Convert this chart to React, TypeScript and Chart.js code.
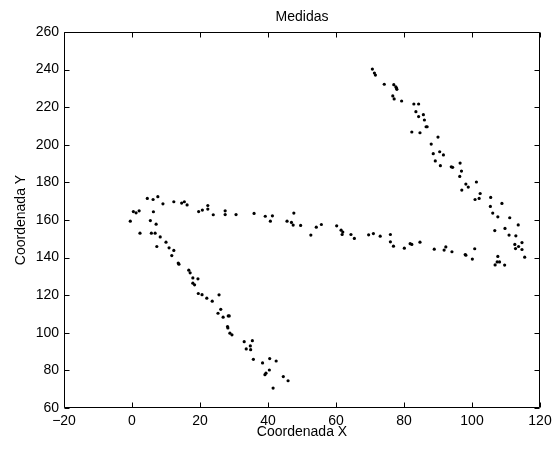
import { useEffect, useRef } from "react";
import { Chart, registerables } from "chart.js";

Chart.register(...registerables);

// Descending branch (lower left) and left junction
const descX = [
  -0.5, 0.4, 1.2, 2.1, 2.35, 4.5, 6.2, 7.6, 6.3, 5.4, 7.1, 5.7, 6.8, 8.3, 9.1, 12.3, 14.6, 15.4, 16.2,
  7.3, 10, 10.9, 12.3, 11.7, 13.8, 13.6, 16.7, 17.1, 17.9, 19.4, 18.4, 17.9, 19.5, 20.6, 22, 23.6, 25.6,
  26.1, 25.3, 26.8, 28.3, 28.6, 28.1, 28.2, 28.8, 29.4, 33, 35.4, 33.6, 34.8, 34.9, 35.7, 38.4, 40.5,
  42.4, 40.4, 39.4, 39.1, 41.5, 44.5, 45.9,
];
const descY = [
  159.4, 164.5, 163.8, 164.9, 153, 171.5, 170.9, 172.4, 164.4, 159.7, 157.8, 153, 153, 151, 168.6, 169.7,
  169, 169.7, 168, 145.9, 148.2, 145.2, 143.8, 141.1, 136.5, 137.1, 133.3, 131.9, 129.2, 128.7, 125.5,
  126.4, 120.9, 120.3, 118.4, 116.8, 120.2, 112.5, 110.4, 108.3, 109, 109, 103.3, 102.6, 99.8, 98.9,
  95.3, 95.8, 91.4, 93, 91, 85.9, 84, 86.3, 85, 80.2, 78.5, 77.7, 70.6, 76.7, 74.5,
];

// Middle, nearly horizontal branch
const midX = [
  19.6, 20.7, 22.3, 22.3, 23.9, 27.4, 27.4, 30.6, 35.9, 39.2, 40.7, 41.3, 45.6, 46.9, 47.6, 47.4, 49.6,
  52.6, 54.2, 55.7, 60.2, 61.5, 62, 61.8, 64.4, 65.4, 69.6, 71, 73, 76, 76, 76.9, 80.1, 81.8, 82.3, 84.7,
  88.9, 91.8, 92.3, 94.1, 98, 98.2, 100.1, 100.8,
];
const midY = [
  164.5, 165.3, 167.7, 165.8, 162.8, 164.9, 162.9, 162.9, 163.5, 162, 159.4, 162.2, 159.4, 158.7, 163.7,
  157.3, 157.1, 152, 156.2, 157.6, 156.9, 154.6, 153.6, 152.3, 152.3, 150.2, 152.1, 152.8, 151.4, 152.3,
  148.4, 146.1, 145, 147.4, 147, 148.2, 144.5, 144, 145.7, 143.1, 141.6, 141.3, 139.2, 144.7,
];

// Upper right branch
const upX = [
  70.7, 71.3, 71.6, 74.2, 77, 77.6, 77.9, 77.8, 76.7, 77.1, 79.3, 82.9, 84.3, 83.5, 84.3, 85.7, 86, 86.5,
  86.8, 82.3, 84.7, 90, 88, 88.6, 90.5, 91.6, 89.2, 90.7, 93.9, 94.3, 96.5, 96.9, 96.4, 97, 98.2, 98.9,
  101.3, 102.4, 102.1, 100.9, 105.5, 108.8, 105.4, 106.1, 107.6, 111.1, 106.7, 109.7, 113.6, 110.9, 112.9,
  114.7, 112.6, 113.7, 112.8, 114.7, 115.5, 107.6, 107.4, 108.1, 106.8, 109.6,
];
const upY = [
  240.3, 238.2, 237.1, 232.2, 232, 230.8, 229.5, 230.2, 226, 224.4, 223.3, 221.7, 221.7, 217.6, 215, 216,
  213.2, 209.6, 209.6, 206.8, 206.4, 204.1, 200.4, 195.3, 196.3, 194.6, 191.4, 188.9, 188.3, 188, 190.3,
  186, 183.2, 175.9, 179.1, 177.5, 180.2, 174.1, 171.5, 170.9, 172, 168.8, 167.2, 163.7, 161.7, 161.2,
  154.4, 155.5, 157.4, 152, 151.6, 148, 147, 145.9, 144.8, 144.3, 140.2, 140.6, 137.7, 137.7, 136.1, 136,
];

const xTickValues = [-20, 0, 20, 40, 60, 80, 100, 120];
const yTickValues = [60, 80, 100, 120, 140, 160, 180, 200, 220, 240, 260];

const FONT = "'Liberation Sans', Arial, Helvetica, sans-serif";

const boxPlugin = {
  id: "matlabBox",
  afterDraw(chart: any) {
    const { ctx, chartArea: a, scales } = chart;
    const L = Math.round(a.left) + 0.5;
    const R = Math.round(a.right) - 0.5;
    const T = Math.round(a.top) + 0.5;
    const B = Math.round(a.bottom) - 0.5;
    const len = 5;
    ctx.save();
    ctx.strokeStyle = "#000";
    ctx.lineWidth = 1;
    ctx.beginPath();
    ctx.rect(L, T, R - L, B - T);
    scales.x.ticks.forEach((t: any) => {
      const px = Math.round(scales.x.getPixelForValue(t.value)) + 0.5;
      ctx.moveTo(px, B);
      ctx.lineTo(px, B - len);
      ctx.moveTo(px, T);
      ctx.lineTo(px, T + len);
    });
    scales.y.ticks.forEach((t: any) => {
      const py = Math.round(scales.y.getPixelForValue(t.value)) + 0.5;
      ctx.moveTo(L, py);
      ctx.lineTo(L + len, py);
      ctx.moveTo(R, py);
      ctx.lineTo(R - len, py);
    });
    ctx.stroke();
    ctx.restore();
  },
};

export default function App() {
  const canvasRef = useRef<HTMLCanvasElement | null>(null);

  useEffect(() => {
    document.body.style.margin = "0";
    const canvas = canvasRef.current;
    if (!canvas) return;
    const xs = [...descX, ...midX, ...upX];
    const ys = [...descY, ...midY, ...upY];
    const data = xs.map((x, i) => ({ x, y: ys[i] }));

    const fmt = (v: number) => (v < 0 ? "\u2212" + Math.abs(v) : String(v));

    const chart = new Chart(canvas, {
      type: "scatter",
      data: {
        datasets: [
          {
            data,
            pointRadius: 1.6,
            pointBackgroundColor: "#000",
            pointBorderWidth: 0,
            borderColor: "#000",
            showLine: false,
          },
        ],
      },
      options: {
        animation: false,
        responsive: false,
        devicePixelRatio: 1,
        layout: { padding: { left: 0, right: 20, top: 0, bottom: 0 } },
        plugins: {
          legend: { display: false },
          tooltip: { enabled: false },
          title: {
            display: true,
            text: "Medidas",
            fullSize: false,
            color: "#000",
            font: { family: FONT, size: 14, weight: "normal" },
            padding: { top: 8.6, bottom: 6.6 },
          },
        },
        scales: {
          x: {
            type: "linear",
            min: -20,
            max: 120,
            afterBuildTicks: (s: any) => {
              s.ticks = xTickValues.map((v) => ({ value: v }));
            },
            afterFit: (s: any) => {
              s.height = 41;
            },
            grid: { display: false, drawTicks: false },
            border: { display: false },
            ticks: {
              color: "#000",
              padding: 5,
              maxRotation: 0,
              font: { family: FONT, size: 14 },
              callback: (v: any) => fmt(Number(v)),
            },
            title: {
              display: true,
              text: "Coordenada X",
              color: "#000",
              font: { family: FONT, size: 14 },
              padding: { top: 0, bottom: 8.6 },
            },
          },
          y: {
            type: "linear",
            min: 60,
            max: 260,
            afterBuildTicks: (s: any) => {
              s.ticks = yTickValues.map((v) => ({ value: v }));
            },
            afterFit: (s: any) => {
              s.width = 64;
            },
            grid: { display: false, drawTicks: false },
            border: { display: false },
            ticks: {
              color: "#000",
              padding: 5,
              font: { family: FONT, size: 14 },
              callback: (v: any) => fmt(Number(v)),
            },
            title: {
              display: true,
              text: "Coordenada Y",
              color: "#000",
              font: { family: FONT, size: 14 },
              padding: { top: 12.6, bottom: 0 },
            },
          },
        },
      },
      plugins: [boxPlugin],
    });

    return () => chart.destroy();
  }, []);

  return (
    <div style={{ position: "absolute", left: 0, top: 0, width: 560, height: 449, background: "#fff" }}>
      <canvas ref={canvasRef} width={560} height={449} style={{ display: "block", width: 560, height: 449 }} />
    </div>
  );
}
